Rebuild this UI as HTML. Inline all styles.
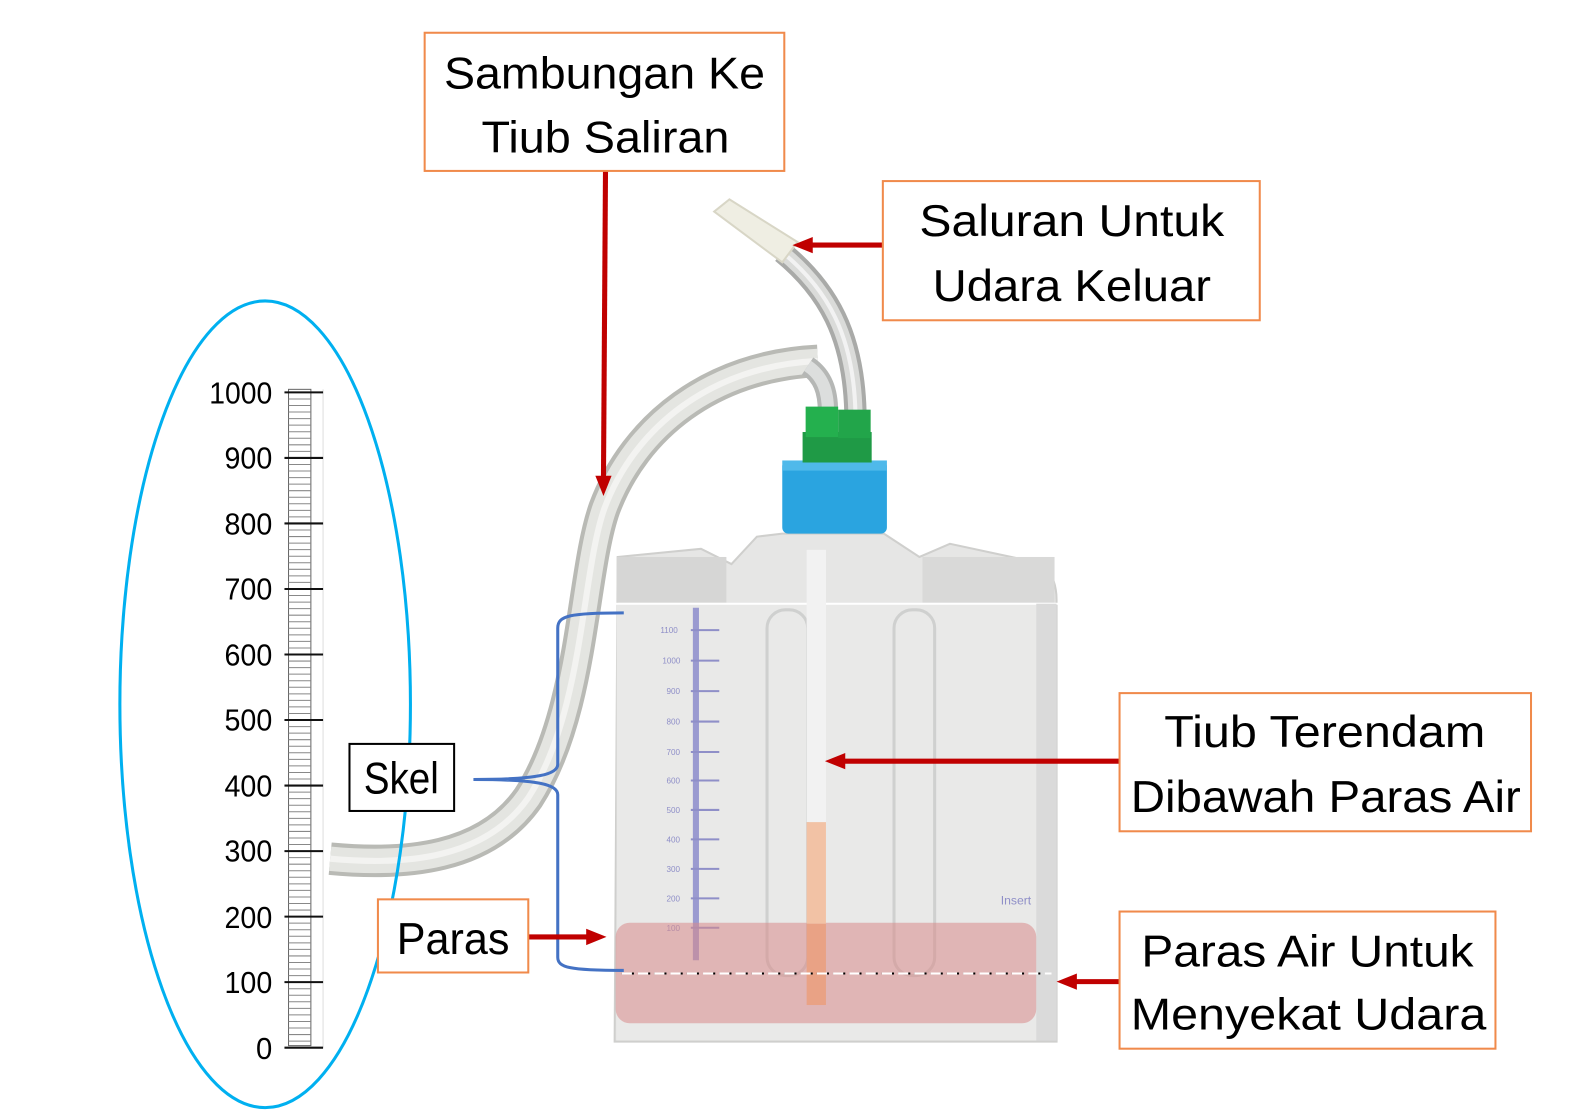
<!DOCTYPE html>
<html><head><meta charset="utf-8"><style>
html,body{margin:0;padding:0;background:#fff;}
svg{display:block;}
text{font-family:"Liberation Sans",sans-serif;fill:#000;}
</style></head><body>
<svg width="1594" height="1117" viewBox="0 0 1569 1099" xmlns="http://www.w3.org/2000/svg">
<rect x="0" y="0" width="1569" height="1099" fill="#fff"/>

<!-- Corrugated tube -->
<path d="M805 355 C 700 360, 625 420, 595 500 C 572 565, 575 700, 520 785 C 478 845, 400 852, 325 845" fill="none" stroke="#b9bab5" stroke-width="32"/>
<path d="M805 355 C 700 360, 625 420, 595 500 C 572 565, 575 700, 520 785 C 478 845, 400 852, 325 845" fill="none" stroke="#e4e5e1" stroke-width="24"/>
<path d="M805 355 C 700 360, 625 420, 595 500 C 572 565, 575 700, 520 785 C 478 845, 400 852, 325 845" fill="none" stroke="#f3f3f1" stroke-width="6"/>
<!-- short bend tube -->
<path d="M795 360 C 810 370, 815 385, 815 405" fill="none" stroke="#b5b7b5" stroke-width="20"/>
<path d="M795 360 C 810 370, 815 385, 815 405" fill="none" stroke="#dcdedd" stroke-width="12"/>
<!-- narrow tube -->
<path d="M770 248 C 815 285, 840 330, 842 405" fill="none" stroke="#a9aaa8" stroke-width="22"/>
<path d="M770 248 C 815 285, 840 330, 842 405" fill="none" stroke="#dadbd9" stroke-width="14"/>
<path d="M770 248 C 815 285, 840 330, 842 405" fill="none" stroke="#f2f2f2" stroke-width="4"/>
<!-- tip -->
<polygon points="703,208 718,196 785,238 770,258" fill="#efeee3" stroke="#d8d6c6" stroke-width="2"/>

<!-- Bottle body -->
<path d="M608 548 L 690 540 L 720 555 L 745 528 L 770 525 L 870 525 L 905 548 L 935 535 L 1028 555 Q 1040 570 1040 590 L 1040 1025 L 605 1025 Z" fill="#e6e6e5" stroke="#cfcfcd" stroke-width="2"/>
<rect x="607" y="548" width="108" height="45" fill="#d6d6d5"/>
<rect x="908" y="548" width="130" height="45" fill="#d9d9d8"/>
<rect x="607" y="594" width="433" height="430" fill="#e9e9e8"/>
<line x1="605" y1="594" x2="1045" y2="594" stroke="#fff" stroke-width="2"/>
<!-- inner chambers -->
<rect x="755" y="600" width="40" height="360" rx="18" fill="none" stroke="#cfd0cf" stroke-width="3"/>
<rect x="880" y="600" width="40" height="360" rx="18" fill="none" stroke="#cfd0cf" stroke-width="3"/>
<rect x="1020" y="594" width="20" height="430" fill="#dadada"/>
<!-- purple scale on bottle -->
<line x1="685" y1="598" x2="685" y2="945" stroke="#9a9ad0" stroke-width="6"/>
<g stroke="#8f8fc8" stroke-width="2">
<line x1="680" y1="620" x2="708" y2="620"/><line x1="680" y1="650" x2="708" y2="650"/><line x1="680" y1="680" x2="708" y2="680"/><line x1="680" y1="710" x2="708" y2="710"/><line x1="680" y1="740" x2="708" y2="740"/><line x1="680" y1="768" x2="708" y2="768"/><line x1="680" y1="797" x2="708" y2="797"/><line x1="680" y1="826" x2="708" y2="826"/><line x1="680" y1="855" x2="708" y2="855"/><line x1="680" y1="884" x2="708" y2="884"/><line x1="680" y1="913" x2="708" y2="913"/>
</g>
<g font-size="8" fill="#8f8fc8" style="fill:#8f8fc8">
<text x="650" y="623" style="fill:#8f8fc8">1100</text><text x="652" y="653" style="fill:#8f8fc8">1000</text><text x="656" y="683" style="fill:#8f8fc8">900</text><text x="656" y="713" style="fill:#8f8fc8">800</text><text x="656" y="743" style="fill:#8f8fc8">700</text><text x="656" y="771" style="fill:#8f8fc8">600</text><text x="656" y="800" style="fill:#8f8fc8">500</text><text x="656" y="829" style="fill:#8f8fc8">400</text><text x="656" y="858" style="fill:#8f8fc8">300</text><text x="656" y="887" style="fill:#8f8fc8">200</text><text x="656" y="916" style="fill:#8f8fc8">100</text>
</g>
<text x="985" y="890" font-size="12" style="fill:#8f8fc8">Insert</text>

<!-- cap & connector -->
<rect x="770" y="453" width="103" height="72" rx="6" fill="#2aa4e0"/>
<rect x="770" y="453" width="103" height="10" fill="#4fb9ea"/>
<rect x="790" y="425" width="68" height="30" fill="#1f9a46"/>
<rect x="793" y="400" width="32" height="30" fill="#24b04e"/>
<rect x="825" y="403" width="32" height="28" fill="#22a54a"/>

<!-- pink water -->
<rect x="606" y="908" width="414" height="99" rx="14" fill="#d98a8a" fill-opacity="0.55"/>
<!-- tube white/orange -->
<rect x="794" y="541" width="19" height="268" fill="#f2f2f2"/>
<rect x="794" y="809" width="19" height="100" fill="#f2c2a5"/>
<rect x="794" y="909" width="19" height="80" fill="#e9a285"/>
<!-- dashed water line -->
<line x1="612" y1="958" x2="1035" y2="958" stroke="#000" stroke-width="2" stroke-dasharray="4 4"/>
<line x1="612" y1="958" x2="1035" y2="958" stroke="#fff" stroke-width="2" stroke-dasharray="10 6"/>

<!-- ellipse -->
<ellipse cx="261" cy="693" rx="143" ry="397" fill="none" stroke="#00b0f0" stroke-width="3"/>

<!-- scale ruler -->
<rect x="284" y="383" width="22" height="646" fill="#fff" stroke="#666" stroke-width="1"/>
<g id="minor" stroke="#777" stroke-width="1"></g>
<line x1="318" y1="383" x2="318" y2="1031" stroke="#ddd" stroke-width="1"/>
<path d="M284 392.45H306M284 398.9H306M284 405.35H306M284 411.8H306M284 418.25H306M284 424.7H306M284 431.15H306M284 437.6H306M284 444.05H306M284 456.95H306M284 463.4H306M284 469.85H306M284 476.3H306M284 482.75H306M284 489.2H306M284 495.65H306M284 502.1H306M284 508.55H306M284 521.45H306M284 527.9H306M284 534.35H306M284 540.8H306M284 547.25H306M284 553.7H306M284 560.15H306M284 566.6H306M284 573.05H306M284 585.95H306M284 592.4H306M284 598.85H306M284 605.3H306M284 611.75H306M284 618.2H306M284 624.65H306M284 631.1H306M284 637.55H306M284 650.45H306M284 656.9H306M284 663.35H306M284 669.8H306M284 676.25H306M284 682.7H306M284 689.15H306M284 695.6H306M284 702.05H306M284 714.95H306M284 721.4H306M284 727.85H306M284 734.3H306M284 740.75H306M284 747.2H306M284 753.65H306M284 760.1H306M284 766.55H306M284 779.45H306M284 785.9H306M284 792.35H306M284 798.8H306M284 805.25H306M284 811.7H306M284 818.15H306M284 824.6H306M284 831.05H306M284 843.95H306M284 850.4H306M284 856.85H306M284 863.3H306M284 869.75H306M284 876.2H306M284 882.65H306M284 889.1H306M284 895.55H306M284 908.45H306M284 914.9H306M284 921.35H306M284 927.8H306M284 934.25H306M284 940.7H306M284 947.15H306M284 953.6H306M284 960.05H306M284 972.95H306M284 979.4H306M284 985.85H306M284 992.3H306M284 998.75H306M284 1005.2H306M284 1011.65H306M284 1018.1H306M284 1024.55H306" stroke="#888" stroke-width="1"/>
<path d="M280 386H318M280 450.5H318M280 515H318M280 579.5H318M280 644H318M280 708.5H318M280 773H318M280 837.5H318M280 902H318M280 966.5H318M280 1031H318" stroke="#111" stroke-width="2"/>
<g font-size="30" text-anchor="end">
<text x="268" y="397" textLength="62" lengthAdjust="spacingAndGlyphs">1000</text>
<text x="268" y="461" textLength="47" lengthAdjust="spacingAndGlyphs">900</text>
<text x="268" y="526" textLength="47" lengthAdjust="spacingAndGlyphs">800</text>
<text x="268" y="590" textLength="47" lengthAdjust="spacingAndGlyphs">700</text>
<text x="268" y="655" textLength="47" lengthAdjust="spacingAndGlyphs">600</text>
<text x="268" y="719" textLength="47" lengthAdjust="spacingAndGlyphs">500</text>
<text x="268" y="784" textLength="47" lengthAdjust="spacingAndGlyphs">400</text>
<text x="268" y="848" textLength="47" lengthAdjust="spacingAndGlyphs">300</text>
<text x="268" y="913" textLength="47" lengthAdjust="spacingAndGlyphs">200</text>
<text x="268" y="977" textLength="47" lengthAdjust="spacingAndGlyphs">100</text>
<text x="268" y="1042" textLength="16" lengthAdjust="spacingAndGlyphs">0</text>
</g>

<!-- brace -->
<path d="M614 603 C 560 603, 549 606, 549 618 L 549 752 C 549 762, 530 767, 466 767 C 530 767, 549 772, 549 782 L 549 942 C 549 952, 560 955, 614 955" fill="none" stroke="#4472c4" stroke-width="3"/>

<!-- red arrows -->
<g stroke="#c00000" stroke-width="5" fill="none">
<line x1="596" y1="168" x2="594" y2="470"/>
<line x1="869" y1="241" x2="796" y2="241"/>
<line x1="1102" y1="749" x2="828" y2="749"/>
<line x1="1102" y1="966" x2="1056" y2="966"/>
<line x1="520" y1="922" x2="580" y2="922"/>
</g>
<g fill="#c00000">
<polygon points="586,468 602,468 594,488"/>
<polygon points="780,241 800,233 800,249"/>
<polygon points="812,749 832,741 832,757"/>
<polygon points="1040,966 1060,958 1060,974"/>
<polygon points="597,922 577,914 577,930"/>
</g>

<!-- label boxes -->
<g fill="#fff" stroke="#f08a4b" stroke-width="2">
<rect x="418" y="32" width="354" height="136"/>
<rect x="869" y="178" width="371" height="137"/>
<rect x="1102" y="682" width="405" height="136"/>
<rect x="1102" y="897" width="370" height="135"/>
<rect x="372" y="885" width="148" height="72"/>
</g>
<rect x="344" y="732" width="103" height="66" fill="#fff" stroke="#000" stroke-width="2"/>

<g font-size="44" text-anchor="middle">
<text x="595" y="87" textLength="316" lengthAdjust="spacingAndGlyphs">Sambungan Ke</text>
<text x="596" y="150" textLength="244" lengthAdjust="spacingAndGlyphs">Tiub Saliran</text>
<text x="1055" y="232" textLength="300" lengthAdjust="spacingAndGlyphs">Saluran Untuk</text>
<text x="1055" y="296" textLength="274" lengthAdjust="spacingAndGlyphs">Udara Keluar</text>
<text x="1304" y="735" textLength="316" lengthAdjust="spacingAndGlyphs">Tiub Terendam</text>
<text x="1305" y="799" textLength="384" lengthAdjust="spacingAndGlyphs">Dibawah Paras Air</text>
<text x="1287" y="951" textLength="327" lengthAdjust="spacingAndGlyphs">Paras Air Untuk</text>
<text x="1288" y="1013" textLength="350" lengthAdjust="spacingAndGlyphs">Menyekat Udara</text>
<text x="395" y="781" textLength="74" lengthAdjust="spacingAndGlyphs">Skel</text>
<text x="446" y="939" textLength="111" lengthAdjust="spacingAndGlyphs">Paras</text>
</g>
</svg>
</body></html>
